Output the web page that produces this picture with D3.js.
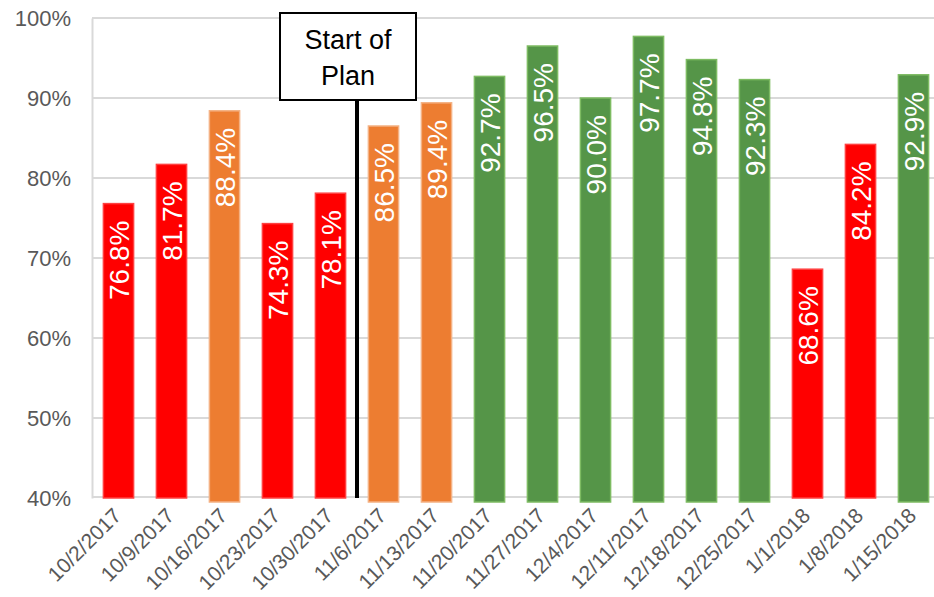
<!DOCTYPE html>
<html>
<head>
<meta charset="utf-8">
<script src="https://cdn.jsdelivr.net/npm/d3@7"></script>
<style>
  html, body { margin: 0; padding: 0; background: #fff; }
  svg { display: block; font-family: "Liberation Sans", Arial, sans-serif; }
</style>
</head>
<body>
<svg id="chart" width="934" height="597"></svg>
<script>
// Weekly completion rate, by week start date
const weeks = ["10/2/2017", "10/9/2017", "10/16/2017", "10/23/2017", "10/30/2017",
  "11/6/2017", "11/13/2017", "11/20/2017", "11/27/2017", "12/4/2017", "12/11/2017",
  "12/18/2017", "12/25/2017", "1/1/2018", "1/8/2018", "1/15/2018"];
const rates = [76.8, 81.7, 88.4, 74.3, 78.1, 86.5, 89.4, 92.7, 96.5, 90.0, 97.7,
  94.8, 92.3, 68.6, 84.2, 92.9];
// Performance band of each week
const bands = ["low", "low", "mid", "low", "low", "mid", "mid", "high", "high",
  "high", "high", "high", "high", "low", "low", "high"];
const yTicks = [40, 50, 60, 70, 80, 90, 100];
const planStartWeek = "11/6/2017";
const planLabel = ["Start of", "Plan"];

const fills = { low: "#FF0000", mid: "#ED7D31", high: "#559548" };
const edges = { low: "#FF4040", mid: "#F4B183", high: "#7DBB62" };
const sink = { low: 0, mid: 4, high: 4 };

const svg = d3.select("#chart");
const margin = { left: 92, top: 18, bottom: 498 };

const x = d3.scaleBand()
  .domain(weeks)
  .range([margin.left, margin.left + 53 * weeks.length])
  .paddingInner(0.43)
  .paddingOuter(0.215);

const y = d3.scaleLinear().domain([40, 100]).range([margin.bottom, margin.top]);

// Horizontal gridlines
svg.append("g")
  .selectAll("line")
  .data(yTicks.slice(1))
  .join("line")
  .attr("x1", margin.left)
  .attr("x2", 934)
  .attr("y1", d => y(d))
  .attr("y2", d => y(d))
  .attr("stroke", "#D9D9D9")
  .attr("stroke-width", 2);

// X axis line (drawn beneath the bars)
svg.append("line")
  .attr("x1", margin.left)
  .attr("x2", 934)
  .attr("y1", y(40) - 1)
  .attr("y2", y(40) - 1)
  .attr("stroke", "#D9D9D9")
  .attr("stroke-width", 2);

// Y axis labels
const yAxis = svg.append("g")
  .attr("transform", `translate(${margin.left},0)`)
  .call(d3.axisLeft(y).tickValues(yTicks).tickFormat(d => d + "%").tickSize(0).tickPadding(21));
yAxis.select(".domain").attr("stroke", "#D9D9D9").attr("stroke-width", 2);
yAxis.selectAll("text")
  .attr("fill", "#595959")
  .attr("font-size", 22)
  .attr("font-family", "Liberation Sans, Arial, sans-serif");

// Bars
svg.append("g")
  .selectAll("rect")
  .data(weeks)
  .join("rect")
  .attr("x", d => x(d))
  .attr("width", x.bandwidth())
  .attr("y", (d, i) => y(rates[i]))
  .attr("height", (d, i) => y(40) - y(rates[i]) + sink[bands[i]])
  .attr("fill", (d, i) => fills[bands[i]])
  .attr("stroke", (d, i) => edges[bands[i]])
  .attr("stroke-width", 1.5);

// Value labels inside bar tops
svg.append("g")
  .selectAll("text")
  .data(weeks)
  .join("text")
  .attr("transform", (d, i) =>
    `translate(${x(d) + x.bandwidth() / 2},${y(rates[i]) + 17}) rotate(-90)`)
  .attr("text-anchor", "end")
  .attr("dy", "0.38em")
  .attr("fill", "#fff")
  .attr("font-size", 28)
  .text((d, i) => rates[i].toFixed(1) + "%");

// X axis labels
svg.append("g")
  .selectAll("text")
  .data(weeks)
  .join("text")
  .attr("transform", d => `translate(${x(d) + x.bandwidth() / 2 + 4},${y(40) + 19}) rotate(-45)`)
  .attr("text-anchor", "end")
  .attr("fill", "#595959")
  .attr("font-size", 21)
  .text(d => d);

// Plan start marker
const planX = x(planStartWeek) - x.step() * x.paddingInner() / 2;
const boxW = 136, boxTop = 13, boxH = 87, boxShift = -9;
svg.append("line")
  .attr("x1", planX).attr("x2", planX)
  .attr("y1", boxTop + boxH)
  .attr("y2", y(40))
  .attr("stroke", "#000")
  .attr("stroke-width", 4);
svg.append("rect")
  .attr("x", planX + boxShift - boxW / 2)
  .attr("y", boxTop)
  .attr("width", boxW)
  .attr("height", boxH)
  .attr("fill", "#fff")
  .attr("stroke", "#000")
  .attr("stroke-width", 2);
svg.append("g")
  .selectAll("text")
  .data(planLabel)
  .join("text")
  .attr("x", planX + boxShift)
  .attr("y", (d, i) => 49 + i * 36)
  .attr("text-anchor", "middle")
  .attr("fill", "#000")
  .attr("font-size", 27)
  .text(d => d);
</script>
</body>
</html>
